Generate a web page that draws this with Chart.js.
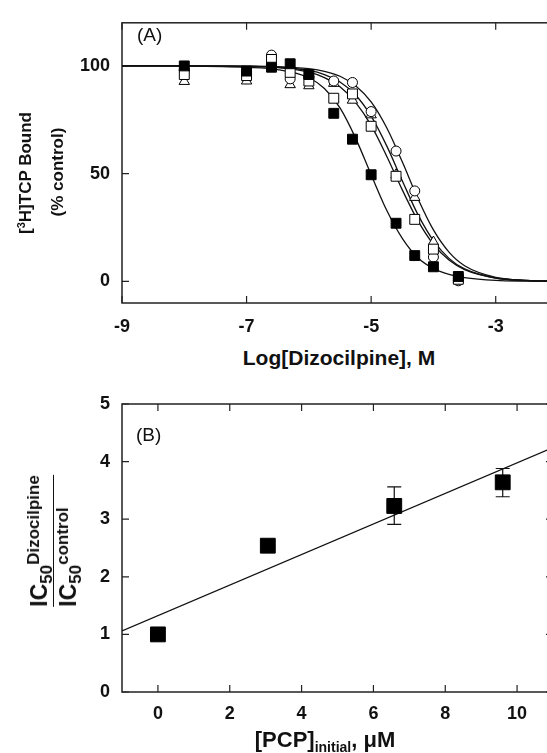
<!DOCTYPE html>
<html>
<head>
<meta charset="utf-8">
<script src="https://cdn.jsdelivr.net/npm/chart.js@4.4.1/dist/chart.umd.min.js"></script>
<style>
  html, body { margin: 0; padding: 0; background: #fff; overflow: hidden; }
  #wrap { position: relative; width: 547px; height: 753px; overflow: hidden;
          font-family: "Liberation Sans", Arial, sans-serif; color: #111; }
  canvas { position: absolute; left: 0; }
  #cvA { top: 0; }
  #cvB { top: 380px; }
  .txt { position: absolute; white-space: nowrap; line-height: 1; }
  .b { font-weight: bold; }
  .rot { transform: translate(-50%, -50%) rotate(-90deg); }
  .ctr { transform: translateX(-50%); }
  .plab { font-size: 19px; }
  #ytB .num { border-bottom: 1.5px solid #111; padding-bottom: 2px; }
  #ytB .den { padding-top: 3px; }
  .ic { font-size: 23px; }
  .sb { font-size: 17px; position: relative; top: 5px; }
  .sp { font-size: 17px; position: relative; top: -8px; }
</style>
</head>
<body>
<div id="wrap">
  <canvas id="cvA" width="600" height="340"></canvas>
  <canvas id="cvB" width="600" height="373"></canvas>

  <div class="txt plab" style="left:137px;top:25px">(A)</div>
  <div class="txt plab" style="left:136px;top:425px">(B)</div>

  <div class="txt b rot" style="left:25px;top:173px;font-size:17px">[<span style="font-size:11px;position:relative;top:-6px">3</span>H]TCP Bound</div>
  <div class="txt b rot" style="left:57px;top:172px;font-size:17px">(% control)</div>
  <div class="txt b ctr" style="left:339px;top:347px;font-size:21px">Log[Dizocilpine], M</div>

  <div id="ytB" class="txt b rot" style="left:54px;top:541px">
    <div class="num"><span class="ic">IC</span><span class="sb">50</span><span class="sp">Dizocilpine</span></div>
    <div class="den"><span class="ic">IC</span><span class="sb">50</span><span class="sp">control</span></div>
  </div>
  <div class="txt b ctr" style="left:325px;top:729px;font-size:22px">[PCP]<span style="font-size:14px;position:relative;top:5px">initial</span>, μM</div>
</div>

<script>
// panel A: [3H]TCP binding vs log[dizocilpine]
const LOG_CONC = [-8, -7, -6.6, -6.3, -6, -5.6, -5.3, -5, -4.6, -4.3, -4, -3.6];
const BOUND_FILLED   = [100, 97.6, 99.4, 101, 96, 78, 66, 49.5, 27, 12, 6.8, 2.3];
const BOUND_CIRCLE   = [98, 96, 105, 94, 95, 93, 92.3, 78.8, 60.5, 42, 11.3, 0.3];
const BOUND_SQUARE   = [96, 95.5, 103, 97, 93, 85, 87, 72, 48.8, 28.8, 15, 1];
const BOUND_TRIANGLE = [92.8, 93, 102, 91.3, 90.8, 91.9, 84.1, 77.3, 49.5, 39, 18.3, 1];

// fitted curves
const CURVE_X      = [-9, -8, -7, -6.5, -6, -5.75, -5.5, -5.25, -5, -4.75, -4.5, -4.25, -4, -3.75, -3.5, -3, -2.5, -2];
const FIT_FILLED   = [100, 99.9, 99.3, 98.3, 94.5, 89.5, 80.5, 66.5, 49.5, 33, 20, 11, 6, 3.3, 1.8, 0.5, 0.15, 0];
const FIT_SQUARE   = [100, 100, 99.8, 99.2, 97.1, 94.6, 90.3, 83.1, 72.4, 58.1, 42.5, 28.2, 17.2, 9.9, 5.5, 1.6, 0.5, 0.1];
const FIT_TRIANGLE = [100, 100, 99.8, 99.4, 97.9, 96, 92.5, 86.5, 76.7, 62.9, 46.7, 31.1, 18.9, 10.7, 5.8, 1.6, 0.4, 0.1];
const FIT_CIRCLE   = [100, 100, 99.9, 99.7, 98.7, 97.5, 95.2, 90.8, 83.3, 71.3, 55.5, 38.5, 23.9, 13.6, 7.3, 1.9, 0.5, 0.1];

const X_TICKS_A = [-9, -7, -5, -3];
const Y_TICKS_A = [0, 50, 100];

// panel B: IC50 ratio vs [PCP]
const PCP_UM   = [0, 3.06, 6.58, 9.6];
const RATIO    = [1.0, 2.54, 3.23, 3.64];
const RATIO_LO = [null, null, 2.91, 3.39];
const RATIO_HI = [null, null, 3.56, 3.88];
const LINE_X   = [-1, 11];
const LINE_Y   = [1.06, 4.245];

const X_TICKS_B = [0, 2, 4, 6, 8, 10];
const Y_TICKS_B = [0, 1, 2, 3, 4, 5];

const FONT = "'Liberation Sans', Arial, sans-serif";
const pts = (xs, ys) => xs.map((x, i) => ({ x, y: ys[i] }));

// frame + inward ticks on all four sides
const frameTicks = {
  id: "frameTicks",
  beforeDatasetsDraw(chart) {
    const { ctx, chartArea: a, scales: { x, y } } = chart;
    const len = 7;
    ctx.save();
    ctx.strokeStyle = "#222";
    ctx.lineWidth = 1.5;
    ctx.strokeRect(a.left, a.top, a.right - a.left, a.bottom - a.top);
    ctx.lineWidth = 1.2;
    ctx.beginPath();
    x.ticks.forEach(t => {
      const px = x.getPixelForValue(t.value);
      ctx.moveTo(px, a.bottom); ctx.lineTo(px, a.bottom - len);
      ctx.moveTo(px, a.top);    ctx.lineTo(px, a.top + len);
    });
    y.ticks.forEach(t => {
      const py = y.getPixelForValue(t.value);
      ctx.moveTo(a.left, py);  ctx.lineTo(a.left + len, py);
      ctx.moveTo(a.right, py); ctx.lineTo(a.right - len, py);
    });
    ctx.stroke();
    ctx.restore();
  }
};

const errorBars = {
  id: "errorBars",
  beforeDatasetsDraw(chart) {
    const { ctx, scales: { x, y } } = chart;
    ctx.save();
    ctx.strokeStyle = "#111";
    ctx.lineWidth = 1.2;
    PCP_UM.forEach((v, i) => {
      if (RATIO_LO[i] == null) return;
      const px = x.getPixelForValue(v);
      const lo = y.getPixelForValue(RATIO_LO[i]);
      const hi = y.getPixelForValue(RATIO_HI[i]);
      ctx.beginPath();
      ctx.moveTo(px, lo); ctx.lineTo(px, hi);
      ctx.moveTo(px - 7, lo); ctx.lineTo(px + 7, lo);
      ctx.moveTo(px - 7, hi); ctx.lineTo(px + 7, hi);
      ctx.stroke();
    });
    ctx.restore();
  }
};

function axis(min, max, ticks, pad, fit) {
  return {
    type: "linear", min, max,
    grid: { display: false, drawTicks: false }, border: { display: false },
    afterBuildTicks: s => { s.ticks = ticks.map(v => ({ value: v })); },
    afterFit: fit,
    ticks: { color: "#111", padding: pad, font: { family: FONT, weight: "bold", size: 18 } },
  };
}

const curve = (ys, order) => ({
  data: pts(CURVE_X, ys), showLine: true, pointRadius: 0,
  borderColor: "#111", borderWidth: 1.3, cubicInterpolationMode: "monotone", order,
});
const marks = (ys, style, radius, fill, order) => ({
  data: pts(LOG_CONC, ys), showLine: false, pointStyle: style, pointRadius: radius,
  backgroundColor: fill, borderColor: "#000", borderWidth: 1, order,
});

const common = {
  responsive: false,
  animation: false,
  plugins: { legend: { display: false }, tooltip: { enabled: false } },
};

new Chart(document.getElementById("cvA").getContext("2d"), {
  type: "scatter",
  data: {
    datasets: [
      curve(FIT_FILLED, 9), curve(FIT_SQUARE, 8), curve(FIT_TRIANGLE, 7), curve(FIT_CIRCLE, 6),
      marks(BOUND_TRIANGLE, "triangle", 6, "#fff", 4),
      marks(BOUND_CIRCLE, "circle", 5, "#fff", 3),
      marks(BOUND_SQUARE, "rect", 7, "#fff", 2),
      marks(BOUND_FILLED, "rect", 7, "#000", 1),
    ],
  },
  options: {
    ...common,
    layout: { padding: { left: 0, top: 13, right: 42, bottom: 0 } },
    scales: {
      x: axis(-9, -2, X_TICKS_A, 13, s => { s.height = 37; }),
      y: axis(-10, 120, Y_TICKS_A, 12, s => { s.width = 122; }),
    },
  },
  plugins: [frameTicks],
});

new Chart(document.getElementById("cvB").getContext("2d"), {
  type: "scatter",
  data: {
    datasets: [
      { data: pts(LINE_X, LINE_Y), showLine: true, pointRadius: 0, borderColor: "#111", borderWidth: 1.3, order: 2 },
      { data: pts(PCP_UM, RATIO), pointStyle: "rect", pointRadius: 10.5, backgroundColor: "#000", borderColor: "#000", borderWidth: 1, order: 1 },
    ],
  },
  options: {
    ...common,
    layout: { padding: { left: 0, top: 24, right: 47, bottom: 33 } },
    scales: {
      x: axis(-1, 11, X_TICKS_B, 11, s => { s.height = 28; }),
      y: axis(0, 5, Y_TICKS_B, 12, s => { s.width = 122; }),
    },
  },
  plugins: [frameTicks, errorBars],
});
</script>
</body>
</html>
